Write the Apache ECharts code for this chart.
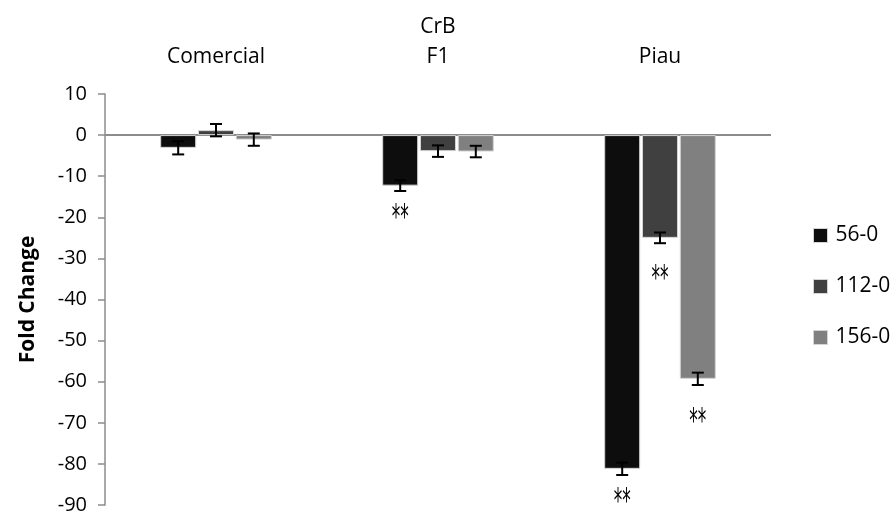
<!DOCTYPE html>
<html>
<head>
<meta charset="utf-8">
<script src="https://cdn.jsdelivr.net/npm/echarts@6/dist/echarts.min.js"></script>
<style>
  html, body { margin: 0; padding: 0; background: #fff; }
  #chart { width: 896px; height: 515px; }
</style>
</head>
<body>
<div id="chart"></div>
<script>
// CrB fold change by variety and sampling interval
const categories = ['Comercial', 'F1', 'Piau'];
const seriesNames = ['56-0', '112-0', '156-0'];

const values56 = [-3.1, -12.3, -81.2];
const values112 = [1.2, -3.9, -25.0];
const values156 = [-1.1, -4.0, -59.3];

const err56 = [1.6, 1.3, 1.5];
const err112 = [1.5, 1.4, 1.3];
const err156 = [1.5, 1.4, 1.5];

const sig56 = ['', '**', '**'];
const sig112 = ['', '', '**'];
const sig156 = ['', '', '**'];

const yMin = -90, yMax = 10, yStep = 10;

const FONT = 'Open Sans';
const BAR_W = 36;
const BAR_GAP = 0.05;
const CAP = 12;
const colors = ['#0d0d0d', '#404040', '#808080'];

const allValues = [values56, values112, values156];
const allErrs = [err56, err112, err156];
const allSig = [sig56, sig112, sig156];
// space between the lower error cap and the significance marks
const starGap = [28, 37, 38];

function barSeries(idx) {
  const s = {
    type: 'bar',
    name: seriesNames[idx],
    barWidth: BAR_W,
    barGap: (BAR_GAP * 100) + '%',
    itemStyle: { color: colors[idx], borderColor: '#d4d4d4', borderWidth: 1 },
    data: allValues[idx],
    z: 2
  };
  if (idx === 0) {
    s.markLine = {
      silent: true,
      symbol: 'none',
      label: { show: false },
      lineStyle: { color: '#8c8c8c', width: 2, type: 'solid' },
      data: [{ yAxis: 0 }],
      z: 1
    };
  }
  return s;
}

// Error bars plus significance asterisks below each bar
function errorSeries(idx) {
  return {
    type: 'custom',
    name: 'err ' + seriesNames[idx],
    silent: true,
    z: 10,
    encode: { x: 0, y: 1 },
    data: allValues[idx].map((v, i) => [i, v, allErrs[idx][i]]),
    renderItem: function (params, api) {
      const i = params.dataIndex;
      const c = api.value(0), v = api.value(1), e = api.value(2);
      const off = (idx - 1) * BAR_W * (1 + BAR_GAP);
      const x = api.coord([c, v])[0] + off;
      const yHi = api.coord([c, v + e])[1];
      const yLo = api.coord([c, v - e])[1];
      const h = CAP / 2;
      const st = { stroke: '#000', lineWidth: 2 };
      const children = [
        { type: 'line', shape: { x1: x, y1: yHi, x2: x, y2: yLo }, style: st },
        { type: 'line', shape: { x1: x - h, y1: yHi, x2: x + h, y2: yHi }, style: st },
        { type: 'line', shape: { x1: x - h, y1: yLo, x2: x + h, y2: yLo }, style: st }
      ];
      const mark = allSig[idx][i];
      if (mark) {
        children.push({
          type: 'text',
          x: x,
          y: yLo + starGap[idx],
          scaleX: 0.5,
          style: {
            text: mark,
            x: 0,
            y: 0,
            font: '34px "DejaVu Sans"',
            fill: '#000',
            align: 'center',
            verticalAlign: 'middle'
          }
        });
      }
      return { type: 'group', children: children };
    }
  };
}

const chart = echarts.init(document.getElementById('chart'), null, { renderer: 'canvas' });

chart.setOption({
  backgroundColor: '#fff',
  animation: false,
  legend: {
    orient: 'vertical',
    left: 808,
    top: 220,
    itemWidth: 14,
    itemHeight: 14,
    itemGap: 30,
    icon: 'rect',
    data: seriesNames,
    itemStyle: { borderColor: '#d4d4d4', borderWidth: 1 },
    textStyle: { fontFamily: FONT, fontSize: 21, color: '#000', padding: [0, 0, 0, 3] }
  },
  grid: { left: 105, right: 125, top: 94, bottom: 7 },
  xAxis: {
    type: 'category',
    data: categories,
    position: 'top',
    name: 'CrB',
    nameLocation: 'middle',
    nameGap: 56,
    nameTextStyle: { fontFamily: FONT, fontSize: 21, color: '#000' },
    axisLine: { show: false },
    axisTick: { show: false },
    axisLabel: { margin: 26, fontFamily: FONT, fontSize: 21, color: '#000' }
  },
  yAxis: {
    type: 'value',
    min: yMin,
    max: yMax,
    interval: yStep,
    name: 'Fold Change',
    nameLocation: 'middle',
    nameGap: 66,
    nameTextStyle: { fontFamily: FONT, fontSize: 21, fontWeight: 'bold', color: '#000' },
    axisLine: { show: true, lineStyle: { color: '#8c8c8c', width: 1.5 } },
    axisTick: { show: true, length: 7, lineStyle: { color: '#8c8c8c', width: 1.5 } },
    splitLine: { show: false },
    axisLabel: { margin: 18, fontFamily: FONT, fontSize: 20, color: '#000' }
  },
  series: [0, 1, 2].map(barSeries).concat([0, 1, 2].map(errorSeries))
});
</script>
</body>
</html>
